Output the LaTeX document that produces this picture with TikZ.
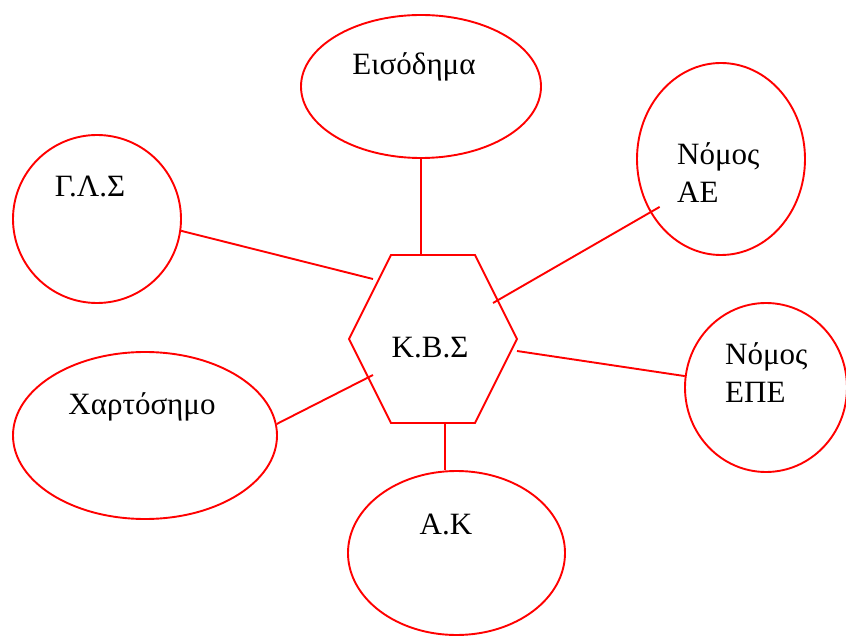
\documentclass[tikz,border=0pt]{standalone}
\usepackage{fontspec}
\setmainfont{Liberation Serif}
\usetikzlibrary{shapes.geometric,calc}

\begin{document}
\begin{tikzpicture}[x=1pt, y=-1pt,
    bubble/.style={draw=red, ellipse, line width=1.9pt, inner sep=0pt},
    link/.style={draw=red, line width=1.9pt},
    txt/.style={font=\fontsize{31}{38}\selectfont, inner sep=0pt, anchor=base}
]
\useasboundingbox (0,0) rectangle (846,636);

% outer ellipses
\node[bubble, minimum width=240pt, minimum height=143pt] (eis) at (421,86.5) {};
\node[bubble, minimum width=168pt, minimum height=168pt] (gls) at (97,219) {};
\node[bubble, minimum width=168pt, minimum height=192pt] (ae) at (721,159) {};
\node[bubble, minimum width=162pt, minimum height=169pt] (epe) at (766,387.5) {};
\node[bubble, minimum width=264pt, minimum height=167pt] (xar) at (145,435.5) {};
\node[bubble, minimum width=217pt, minimum height=164pt] (ak) at (456.5,553) {};

% hexagon in the middle
\coordinate (hx-l) at (349,339);
\coordinate (hx-tl) at (391,255);
\coordinate (hx-tr) at (475,255);
\coordinate (hx-r) at (517,339);
\coordinate (hx-br) at (475,423);
\coordinate (hx-bl) at (391,423);
\draw[link] (hx-l) -- (hx-tl) -- (hx-tr) -- (hx-r) -- (hx-br) -- (hx-bl) -- cycle;

% texts
\node[txt] (kbs) at (430,357) {Κ.Β.Σ};
\node[txt] (eis-t) at (414,75) {Εισόδημα};
\node[txt] (gls-t) at (90,197) {Γ.Λ.Σ};
\node[txt] (xar-t) at (142,414) {Χαρτόσημο};
\node[txt] (ak-t) at (446,534) {Α.Κ};
\node[txt, anchor=base west, align=left] (ae-t) at (677,203) {Νόμος\\ΑΕ};
\node[txt, anchor=base west, align=left] (epe-t) at (725,402) {Νόμος\\ΕΠΕ};

% ends on the hexagon
\coordinate (hx-top) at (421,255);
\coordinate (hx-gls) at (373,279);
\coordinate (hx-ae) at (493,303);
\coordinate (hx-epe) at (517,351);
\coordinate (hx-xar) at (373,375);
\coordinate (hx-bot) at (445,423);

\draw[link] (eis.south) -- (hx-top);
\draw[link] (gls.-8) -- (hx-gls);
\draw[link, shorten <=-11pt] (ae.217) -- (hx-ae);
\draw[link] (epe.172) -- (hx-epe);
\draw[link] (xar.5) -- (hx-xar);
\draw[link] (hx-bot) -- (ak.north -| hx-bot);
\end{tikzpicture}
\end{document}
